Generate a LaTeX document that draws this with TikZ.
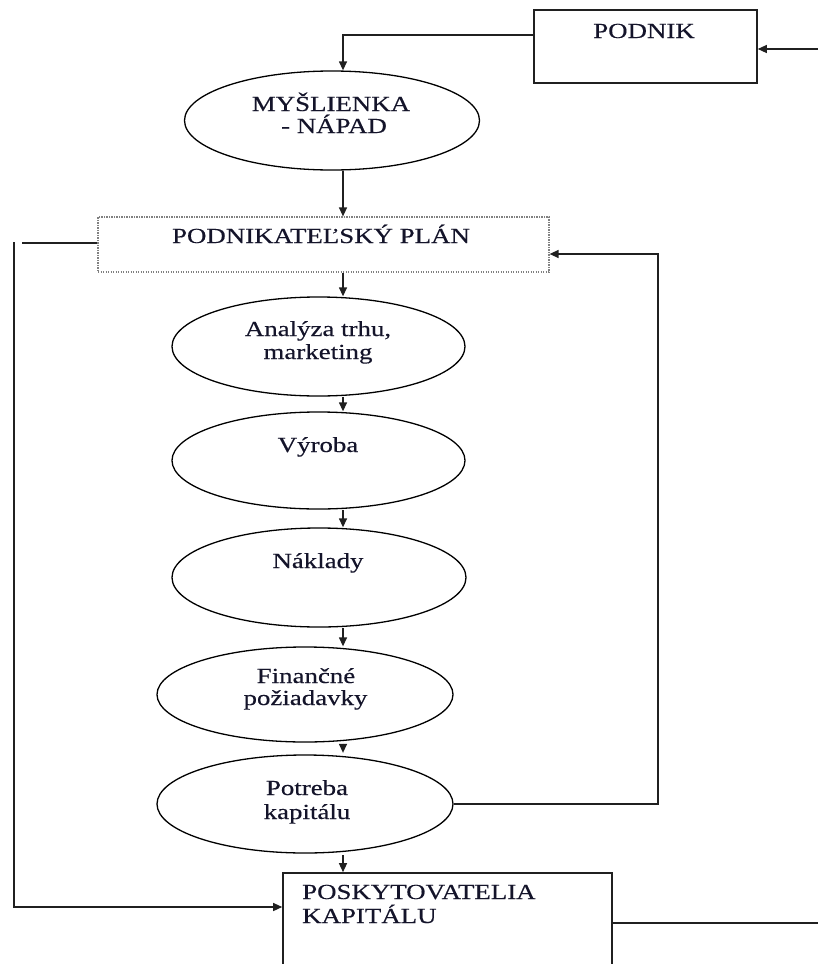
\documentclass[tikz,border=0pt]{standalone}
\usepackage{fontspec}
\setmainfont{Liberation Serif}[FakeStretch=1.25,FakeBold=0.4]
\usetikzlibrary{arrows.meta,shapes.geometric}
\definecolor{ink}{HTML}{14142A}
\definecolor{edge}{HTML}{202020}
\tikzset{
  box/.style={draw=edge, line width=1.6pt, inner sep=0pt, minimum width=#1},
  planbox/.style={draw=gray, line width=1.2pt, dash pattern=on 1.2pt off 1.3pt, inner sep=0pt},
  ell/.style={draw=black, ellipse, line width=1.3pt, inner sep=0pt},
  lbl/.style={inner sep=0pt, anchor=base, text=ink, font=\fontsize{21.5}{22}\selectfont},
  conn/.style={draw=edge, line width=1.3pt},
  arr/.style={conn, -{Triangle[length=9pt,width=8pt]}}
}
\begin{document}
\begin{tikzpicture}[x=1pt,y=-1pt]
\useasboundingbox (0,0) rectangle (818,964);
\clip (0,0) rectangle (818,964);
% shapes
\node[box=223pt, minimum height=73pt] (podnik) at (645.5,46.5) {};
\node[ell, minimum width=295pt, minimum height=99pt] (mys) at (332,120.5) {};
\node[planbox, minimum width=451pt, minimum height=55pt] (plan) at (323.5,244.5) {};
\node[ell, minimum width=293pt, minimum height=99pt] (ana) at (318.5,346.5) {};
\node[ell, minimum width=293pt, minimum height=97pt] (vyr) at (318.5,460.5) {};
\node[ell, minimum width=294pt, minimum height=99pt] (nak) at (319,577.5) {};
\node[ell, minimum width=296pt, minimum height=95pt] (fin) at (305,694.5) {};
\node[ell, minimum width=296pt, minimum height=98pt] (pot) at (305,804) {};
\node[box=329pt, minimum height=100pt] (posk) at (447.5,923) {};
% texts
\node[lbl] (podnikT) at (644,38) {PODNIK};
\node[lbl] (mysT1) at (331,111) {MYŠLIENKA};
\node[lbl] (mysT2) at (334,133) {- NÁPAD};
\node[lbl] (planT) at (321,243) {PODNIKATEĽSKÝ PLÁN};
\node[lbl] (anaT1) at (318,336) {Analýza trhu,};
\node[lbl] (anaT2) at (318,359) {marketing};
\node[lbl] (vyrT) at (318,452) {Výroba};
\node[lbl] (nakT) at (318,568) {Náklady};
\node[lbl] (finT1) at (306,683) {Finančné};
\node[lbl] (finT2) at (305.5,705) {požiadavky};
\node[lbl] (potT1) at (307,795) {Potreba};
\node[lbl] (potT2) at (307,819) {kapitálu};
\node[lbl, anchor=base west] (poskT1) at (302,899) {POSKYTOVATELIA};
\node[lbl, anchor=base west] (poskT2) at (302,923) {KAPITÁLU};
% helper coordinates
\coordinate (colx) at (343,0);
\coordinate (inR) at (818,49);
\coordinate (topY) at (0,35);
\coordinate (fb) at (658,254);
\coordinate (lt) at (22,243);
\coordinate (lv) at (14,242);
\coordinate (lb) at (14,907);
\coordinate (outR) at (818,923);
% connectors
\draw[arr] (inR) -- (podnik.east |- inR);
\draw[arr] (podnik.west |- topY) -| (mys.north -| colx);
\draw[arr] (mys.south -| colx) -- (plan.north -| colx);
\draw[arr] (plan.south -| colx) -- (ana.north -| colx);
\draw[arr] (ana.south -| colx) -- (vyr.north -| colx);
\draw[arr] (vyr.south -| colx) -- (nak.north -| colx);
\draw[arr] (nak.south -| colx) -- (fin.north -| colx);
\draw[arr] ([yshift=-1pt]fin.south -| colx) -- ([yshift=1.5pt]pot.north -| colx);
\draw[arr] ([yshift=-1.5pt]pot.south -| colx) -- (posk.north -| colx);
\draw[arr] (pot.east) -| (fb) -- (plan.east |- fb);
\draw[conn] (plan.west |- lt) -- (lt);
\draw[arr] (lv) -- (lb) -- (posk.west |- lb);
\draw[conn] (posk.east |- outR) -- (outR);
\end{tikzpicture}
\end{document}
